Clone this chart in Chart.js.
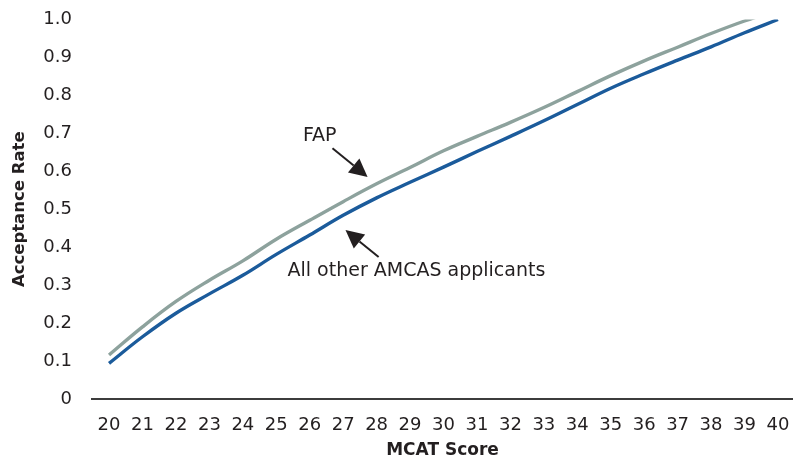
<!DOCTYPE html>
<html>
<head>
<meta charset="utf-8">
<script src="https://cdn.jsdelivr.net/npm/chart.js@4/dist/chart.umd.min.js"></script>
<style>
  html, body { margin: 0; padding: 0; background: #fff; }
  #wrap { width: 793px; height: 461px; }
</style>
</head>
<body>
<div id="wrap"><canvas id="acceptChart"></canvas></div>
<script>
// Acceptance rate by MCAT score - FAP vs all other AMCAS applicants
const MCAT_SCORES = [20,21,22,23,24,25,26,27,28,29,30,31,32,33,34,35,36,37,38,39,40];
const FAP_RATE   = [0.116,0.190,0.257,0.313,0.364,0.421,0.471,0.520,0.567,0.610,0.654,0.692,0.729,0.768,0.810,0.852,0.891,0.927,0.963,0.996,1.025];
const OTHER_RATE = [0.094,0.164,0.226,0.277,0.326,0.381,0.432,0.484,0.530,0.571,0.611,0.652,0.692,0.733,0.776,0.819,0.857,0.893,0.928,0.965,1.000];
const Y_TICKS = [0,0.1,0.2,0.3,0.4,0.5,0.6,0.7,0.8,0.9,1.0];

const TEXT_COLOR = '#231f20';
const FONT = "'DejaVu Sans', 'Open Sans', sans-serif";

// callouts placed in data units: label position, arrow tail, arrow tip
const CALLOUTS = [
  { text: 'FAP', at: [26.3, 0.693], from: [26.68, 0.661], to: [27.73, 0.585] },
  { text: 'All other AMCAS applicants', at: [29.19, 0.337], from: [28.06, 0.374], to: [27.07, 0.445] }
];

const calloutPlugin = {
  id: 'callouts',
  afterDatasetsDraw(chart) {
    const { ctx, scales: { x, y } } = chart;
    ctx.save();
    ctx.fillStyle = TEXT_COLOR;
    ctx.strokeStyle = TEXT_COLOR;
    ctx.font = `19px ${FONT}`;
    ctx.textAlign = 'center';
    ctx.textBaseline = 'middle';
    CALLOUTS.forEach(c => {
      ctx.fillText(c.text, x.getPixelForValue(c.at[0]), y.getPixelForValue(c.at[1]));
      const x1 = x.getPixelForValue(c.from[0]), y1 = y.getPixelForValue(c.from[1]);
      const x2 = x.getPixelForValue(c.to[0]), y2 = y.getPixelForValue(c.to[1]);
      const ang = Math.atan2(y2 - y1, x2 - x1);
      const head = 18, half = 9;
      const bx = x2 - head * Math.cos(ang), by = y2 - head * Math.sin(ang);
      ctx.lineWidth = 2;
      ctx.beginPath();
      ctx.moveTo(x1, y1);
      ctx.lineTo(bx, by);
      ctx.stroke();
      ctx.beginPath();
      ctx.moveTo(x2, y2);
      ctx.lineTo(bx + half * Math.sin(ang), by - half * Math.cos(ang));
      ctx.lineTo(bx - half * Math.sin(ang), by + half * Math.cos(ang));
      ctx.closePath();
      ctx.fill();
    });
    ctx.restore();
  }
};

new Chart(document.getElementById('acceptChart'), {
  type: 'line',
  data: {
    datasets: [
      { label: 'FAP', data: MCAT_SCORES.map((s, i) => ({ x: s, y: FAP_RATE[i] })),
        borderColor: '#8da29d', borderWidth: 3.4, pointRadius: 0, tension: 0.4, fill: false },
      { label: 'All other AMCAS applicants', data: MCAT_SCORES.map((s, i) => ({ x: s, y: OTHER_RATE[i] })),
        borderColor: '#1b5b9b', borderWidth: 3.4, pointRadius: 0, tension: 0.4, fill: false }
    ]
  },
  options: {
    responsive: true,
    maintainAspectRatio: false,
    animation: false,
    layout: { padding: { top: 19.5, right: 0, left: 0, bottom: 0 } },
    plugins: { legend: { display: false }, tooltip: { enabled: false } },
    scales: {
      x: {
        type: 'linear',
        min: 19.49,
        max: 40.45,
        afterBuildTicks: s => { s.ticks = MCAT_SCORES.map(v => ({ value: v })); },
        afterFit: s => { s.height = 62; s.paddingLeft = 0; s.paddingRight = 0; },
        grid: { display: false, drawTicks: false },
        border: { display: true, color: '#3c3c3c', width: 2 },
        ticks: { color: TEXT_COLOR, font: { family: FONT, size: 18 }, padding: 16, maxRotation: 0, autoSkip: false },
        title: { display: true, text: 'MCAT Score', color: TEXT_COLOR,
                 font: { family: FONT, size: 17, weight: 'bold', lineHeight: 1.2 }, padding: { top: 0, bottom: 0 } }
      },
      y: {
        min: 0,
        max: 1,
        afterBuildTicks: s => { s.ticks = Y_TICKS.map(v => ({ value: v })); },
        afterFit: s => { s.width = 92; s.paddingTop = 0; s.paddingBottom = 0; },
        grid: { display: false, drawTicks: false },
        border: { display: false },
        ticks: { color: TEXT_COLOR, font: { family: FONT, size: 18 }, padding: 20,
                 callback: v => v === 0 ? '0' : v.toFixed(1) },
        title: { display: true, text: 'Acceptance Rate', color: TEXT_COLOR,
                 font: { family: FONT, size: 16.5, weight: 'bold', lineHeight: 1.2 }, padding: { top: 10, bottom: 0 } }
      }
    }
  },
  plugins: [calloutPlugin]
});
</script>
</body>
</html>
